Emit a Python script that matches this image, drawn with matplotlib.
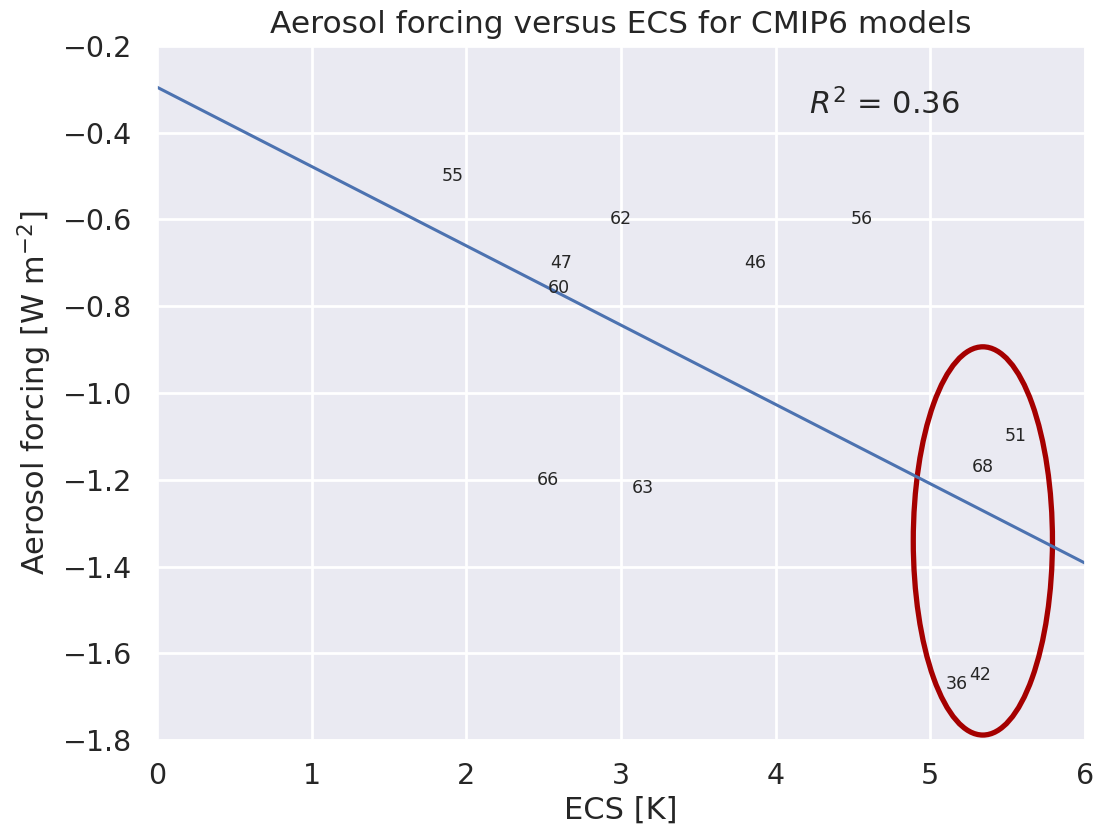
import numpy as np
import matplotlib
matplotlib.use("Agg")
import matplotlib.pyplot as plt
import seaborn as sns
from matplotlib.patches import Ellipse

# model labels and where they sit (ECS [K], aerosol forcing [W m-2])
labels = ["55", "62", "56", "47", "46", "60", "51", "68", "66", "63", "36", "42"]
ecs = [1.91, 3.00, 4.56, 2.61, 3.87, 2.60, 5.55, 5.34, 2.53, 3.14, 5.17, 5.32]
forcing = [-0.50, -0.60, -0.60, -0.70, -0.70, -0.758, -1.10, -1.17, -1.20, -1.22, -1.67, -1.65]

# regression line end points
line_x = [0, 6]
line_y = [-0.295, -1.392]

sns.set_theme(style="darkgrid")
plt.rcParams['font.family'] = ['DejaVu Sans']

fig = plt.figure(figsize=(10.99, 8.33), dpi=100)
ax = fig.add_axes([0.1429, 0.1116, 0.8443, 0.8332])

ax.plot(line_x, line_y, color="#4c72b0", lw=2.2)

for lab, x, y in zip(labels, ecs, forcing):
    ax.text(x, y, lab, ha="center", va="center", fontsize=12.5, color="#262626")

ax.text(4.70, -0.334, r"$R^2$ = 0.36", ha="center", va="center", fontsize=22, color="#262626")

# highlight the high-ECS cluster
ell = Ellipse((5.34, -1.341), 0.90, 0.895, fill=False, ec="#a50000", lw=3.8, clip_on=False)
ax.add_patch(ell)

ax.set_xlim(0, 6)
ax.set_ylim(-1.8, -0.2)
ax.set_xticks(np.arange(0, 7, 1))
ax.set_yticks(np.arange(-1.8, -0.19, 0.2))
ax.tick_params(axis="y", labelsize=20.5, colors="#262626", pad=12)
ax.tick_params(axis="x", labelsize=20.5, colors="#262626", pad=10)
ax.grid(color="white", lw=2)

ax.set_title("Aerosol forcing versus ECS for CMIP6 models", fontsize=22.5, color="#262626", pad=9)
ax.set_xlabel("ECS [K]", fontsize=22, color="#262626", labelpad=4)
ax.set_ylabel(r"Aerosol forcing [W m$^{-2}$]", fontsize=22, color="#262626", labelpad=6)

fig.savefig("out.png", dpi=100)
